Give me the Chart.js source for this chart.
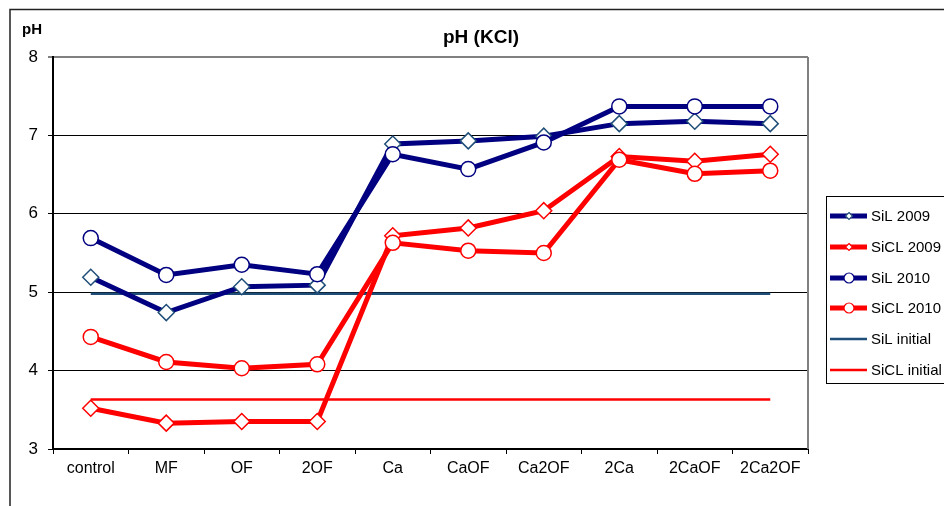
<!DOCTYPE html>
<html>
<head>
<meta charset="utf-8">
<script src="https://cdn.jsdelivr.net/npm/chart.js@4/dist/chart.umd.min.js"></script>
<style>
  html, body { margin: 0; padding: 0; background: #fff; }
  #wrap { width: 944px; height: 506px; position: relative; }
</style>
</head>
<body>
<div id="wrap"><canvas id="myChart" width="944" height="506"></canvas></div>
<script>
// categories and values
var categories = ["control", "MF", "OF", "2OF", "Ca", "CaOF", "Ca2OF", "2Ca", "2CaOF", "2Ca2OF"];
var sil2009  = [5.19, 4.74, 5.07, 5.09, 6.89, 6.93, 6.99, 7.15, 7.18, 7.15];
var sicl2009 = [3.52, 3.33, 3.35, 3.35, 5.72, 5.82, 6.04, 6.73, 6.67, 6.76];
var sil2010  = [5.69, 5.22, 5.35, 5.23, 6.76, 6.57, 6.91, 7.37, 7.37, 7.37];
var sicl2010 = [4.43, 4.11, 4.03, 4.08, 5.63, 5.53, 5.50, 6.69, 6.51, 6.55];
var silInitial  = [4.98, 4.98, 4.98, 4.98, 4.98, 4.98, 4.98, 4.98, 4.98, 4.98];
var siclInitial = [3.63, 3.63, 3.63, 3.63, 3.63, 3.63, 3.63, 3.63, 3.63, 3.63];
var yTicks = [3, 4, 5, 6, 7, 8];

var FONT = "'Liberation Sans', Arial, sans-serif";
var NAVY = '#000080';
var RED = '#ff0000';

// frame, title, plot border and legend
var decor = {
    id: 'decor',
    beforeDraw: function (chart) {
        var ctx = chart.ctx;
        ctx.save();
        ctx.fillStyle = '#fff';
        ctx.fillRect(0, 0, chart.width, chart.height);
        ctx.strokeStyle = '#222';
        ctx.lineWidth = 1.5;
        ctx.strokeRect(10, 9.5, 1000, 600);
        ctx.restore();
    },
    beforeDatasetsDraw: function (chart) {
        var ctx = chart.ctx, a = chart.chartArea;
        ctx.save();
        ctx.strokeStyle = '#808080';
        ctx.lineWidth = 2;
        ctx.beginPath();
        ctx.moveTo(a.right, a.top);
        ctx.lineTo(a.right, a.bottom);
        ctx.stroke();
        ctx.restore();
    },
    afterDraw: function (chart) {
        var ctx = chart.ctx;
        ctx.save();
        ctx.fillStyle = '#000';
        ctx.textBaseline = 'alphabetic';
        ctx.textAlign = 'center';
        ctx.font = 'bold 19px ' + FONT;
        ctx.fillText('pH (KCl)', 481, 43);
        ctx.font = 'bold 15px ' + FONT;
        ctx.fillText('pH', 32, 34);

        // legend
        ctx.strokeStyle = '#000';
        ctx.lineWidth = 1;
        ctx.strokeRect(826.5, 196.5, 200, 187);
        var rows = [216, 247, 278, 308, 339, 370];
        ctx.font = '15px ' + FONT;
        ctx.textAlign = 'left';
        ctx.textBaseline = 'middle';
        chart.data.datasets.forEach(function (ds, i) {
            var y = rows[i];
            ctx.strokeStyle = ds.borderColor;
            ctx.lineWidth = ds.borderWidth;
            ctx.beginPath();
            ctx.moveTo(830, y);
            ctx.lineTo(867, y);
            ctx.stroke();
            if (ds.pointRadius > 0) {
                ctx.fillStyle = '#fff';
                ctx.strokeStyle = ds.pointBorderColor;
                ctx.lineWidth = 1.2;
                ctx.beginPath();
                if (ds.pointStyle === 'rectRot') {
                    var r = 3.5;
                    ctx.moveTo(849, y - r);
                    ctx.lineTo(849 + r, y);
                    ctx.lineTo(849, y + r);
                    ctx.lineTo(849 - r, y);
                    ctx.closePath();
                } else {
                    ctx.arc(849, y, 5, 0, Math.PI * 2);
                }
                ctx.fill();
                ctx.stroke();
            }
            ctx.fillStyle = '#000';
            ctx.fillText(ds.label, 871, y + 1);
        });
        ctx.restore();
    }
};

function lineSet(label, data, color, markerBorder, style, radius, order) {
    return {
        label: label,
        data: data,
        borderColor: color,
        borderWidth: 5,
        pointStyle: style,
        pointRadius: radius,
        pointHoverRadius: radius,
        pointBackgroundColor: '#fff',
        pointBorderColor: markerBorder,
        pointBorderWidth: 1.5,
        tension: 0,
        fill: false,
        order: order
    };
}

var datasets = [
    lineSet('SiL 2009', sil2009, NAVY, '#1f4e79', 'rectRot', 8, 4),
    lineSet('SiCL 2009', sicl2009, RED, RED, 'rectRot', 8, 3),
    lineSet('SiL 2010', sil2010, NAVY, NAVY, 'circle', 7.5, 2),
    lineSet('SiCL 2010', sicl2010, RED, RED, 'circle', 7.5, 1),
    { label: 'SiL initial', data: silInitial, borderColor: '#1f4e79', borderWidth: 2.5,
      pointRadius: 0, pointHoverRadius: 0, fill: false, order: 6 },
    { label: 'SiCL initial', data: siclInitial, borderColor: RED, borderWidth: 2.5,
      pointRadius: 0, pointHoverRadius: 0, fill: false, order: 5 }
];

var ctx = document.getElementById('myChart').getContext('2d');
var myChart = new Chart(ctx, {
    type: 'line',
    data: { labels: categories, datasets: datasets },
    plugins: [decor],
    options: {
        responsive: false,
        animation: false,
        events: [],
        layout: { padding: { left: 0, right: 136, top: 57, bottom: 0 } },
        plugins: {
            legend: { display: false },
            title: { display: false },
            tooltip: { enabled: false }
        },
        scales: {
            x: {
                offset: true,
                afterFit: function (scale) { scale.height = 57; },
                grid: {
                    offset: true,
                    drawOnChartArea: false,
                    drawTicks: true,
                    tickLength: 5,
                    color: '#000',
                    lineWidth: 1
                },
                border: { color: '#000', width: 2 },
                ticks: {
                    color: '#000',
                    padding: 5,
                    maxRotation: 0,
                    autoSkip: false,
                    font: { family: FONT, size: 16 }
                }
            },
            y: {
                min: 3,
                max: 8,
                afterFit: function (scale) { scale.width = 53; },
                afterBuildTicks: function (scale) {
                    scale.ticks = yTicks.map(function (v) { return { value: v }; });
                },
                grid: {
                    tickLength: 5,
                    color: function (c) { return c.tick && c.tick.value === 8 ? '#808080' : '#000'; },
                    lineWidth: function (c) { return c.tick && c.tick.value === 8 ? 2 : 1; }
                },
                border: { color: '#000', width: 2 },
                ticks: {
                    color: '#000',
                    padding: 10,
                    font: { family: FONT, size: 17 }
                }
            }
        }
    }
});
</script>
</body>
</html>
